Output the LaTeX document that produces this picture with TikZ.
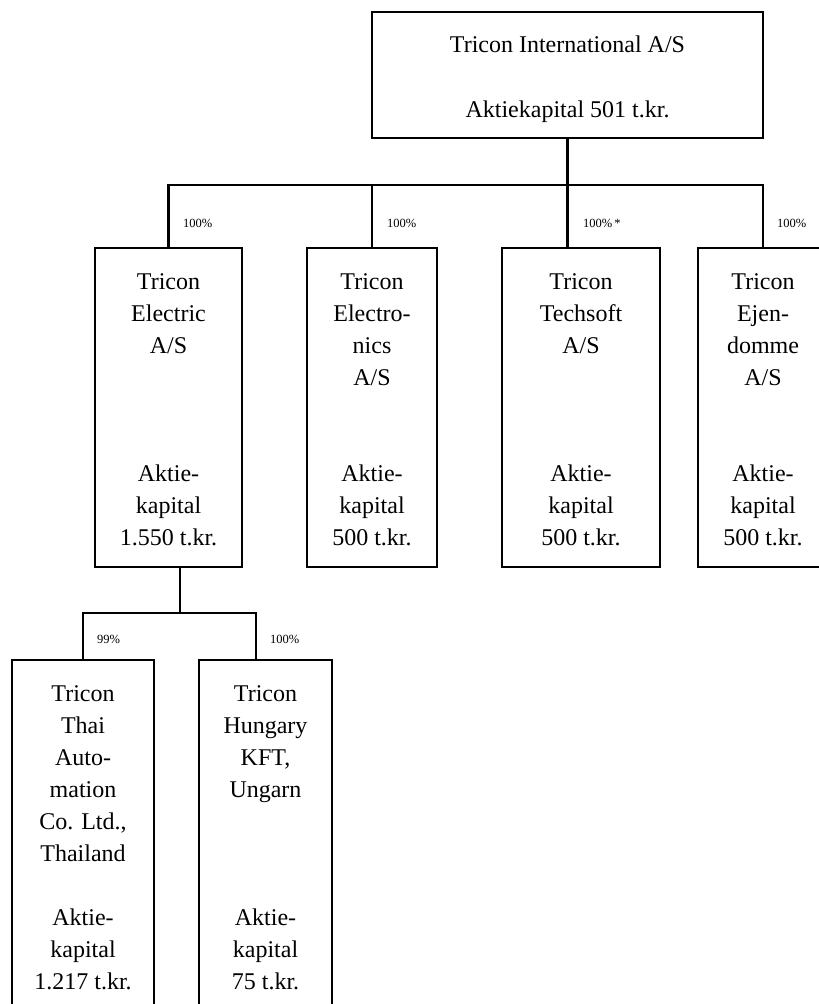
\documentclass[tikz,border=0pt]{standalone}
\usepackage{fontspec}
\setmainfont{Liberation Serif}
\begin{document}
\begin{tikzpicture}[x=1pt,y=-1pt,
  box/.style={draw, line width=2.4pt, inner sep=0pt, outer sep=0pt},
  lbl/.style={font=\fontsize{24}{32}\selectfont, align=center, inner sep=0pt, anchor=north},
  pct/.style={font=\fontsize{12.5}{14}\selectfont, inner sep=0pt, anchor=west},
  conn/.style={line width=2.4pt}]
\useasboundingbox (0,0) rectangle (819,1004);
\clip (0,0) rectangle (819,1004);
% boxes
\node[box, minimum width=391pt, minimum height=126pt] (top) at (567.5,75) {};
\node[box, minimum width=147pt, minimum height=319pt] (electric) at (168.5,407.5) {};
\node[box, minimum width=130pt, minimum height=319pt] (electronics) at (372,407.5) {};
\node[box, minimum width=158pt, minimum height=319pt] (techsoft) at (581,407.5) {};
\node[box, minimum width=130pt, minimum height=319pt] (ejendomme) at (763,407.5) {};
\node[box, minimum width=142pt, minimum height=370pt] (thai) at (83,845) {};
\node[box, minimum width=133pt, minimum height=370pt] (hungary) at (265.5,845) {};
% texts
\node[lbl] (top-n) at ([yshift=-17.6pt]top.north) {\strut Tricon International A/S};
\node[lbl] (top-c) at ([yshift=-82.6pt]top.north) {\strut Aktiekapital 501 t.kr.};
\node[lbl] (electric-n) at ([yshift=-18.6pt]electric.north) {\strut Tricon\\Electric\\A/S};
\node[lbl] (electric-c) at ([yshift=-210.6pt]electric.north) {\strut Aktie-\\kapital\\1.550 t.kr.};
\node[lbl] (electronics-n) at ([yshift=-18.6pt]electronics.north) {\strut Tricon\\Electro-\\nics\\A/S};
\node[lbl] (electronics-c) at ([yshift=-210.6pt]electronics.north) {\strut Aktie-\\kapital\\500 t.kr.};
\node[lbl] (techsoft-n) at ([yshift=-18.6pt]techsoft.north) {\strut Tricon\\Techsoft\\A/S};
\node[lbl] (techsoft-c) at ([yshift=-210.6pt]techsoft.north) {\strut Aktie-\\kapital\\500 t.kr.};
\node[lbl] (ejendomme-n) at ([yshift=-18.6pt]ejendomme.north) {\strut Tricon\\Ejen-\\domme\\A/S};
\node[lbl] (ejendomme-c) at ([yshift=-210.6pt]ejendomme.north) {\strut Aktie-\\kapital\\500 t.kr.};
\node[lbl] (thai-n) at ([yshift=-18.6pt]thai.north) {\strut Tricon\\Thai\\Auto-\\mation\\Co. Ltd.,\\Thailand};
\node[lbl] (thai-c) at ([yshift=-242.6pt]thai.north) {\strut Aktie-\\kapital\\1.217 t.kr.};
\node[lbl] (hungary-n) at ([yshift=-18.6pt]hungary.north) {\strut Tricon\\Hungary\\KFT,\\Ungarn};
\node[lbl] (hungary-c) at ([yshift=-242.6pt]hungary.north) {\strut Aktie-\\kapital\\75 t.kr.};
% connectors level 1
\coordinate (bus) at (567,185);
\draw[conn] (top.south) -- (top.south |- bus);
\draw[conn] (electric.north) |- (ejendomme.north |- bus) -- (ejendomme.north);
\draw[conn] (electronics.north) -- (electronics.north |- bus);
\draw[conn] (top.south |- techsoft.north) -- (top.south |- bus);
% connectors level 2
\coordinate (bus2) at (180,613);
\coordinate (hdrop) at (256,660);
\draw[conn] (electric.south -| bus2) -- (bus2);
\draw[conn] (thai.north) |- (hdrop |- bus2) -- (hdrop);
% percentages
\node[pct] (p1) at (183,223) {100\%};
\node[pct] (p2) at (387,223) {100\%};
\node[pct] (p3) at (583,223) {100\%\,*};
\node[pct] (p4) at (777,223) {100\%};
\node[pct] (p5) at (97,639) {99\%};
\node[pct] (p6) at (270,639) {100\%};
\end{tikzpicture}
\end{document}
